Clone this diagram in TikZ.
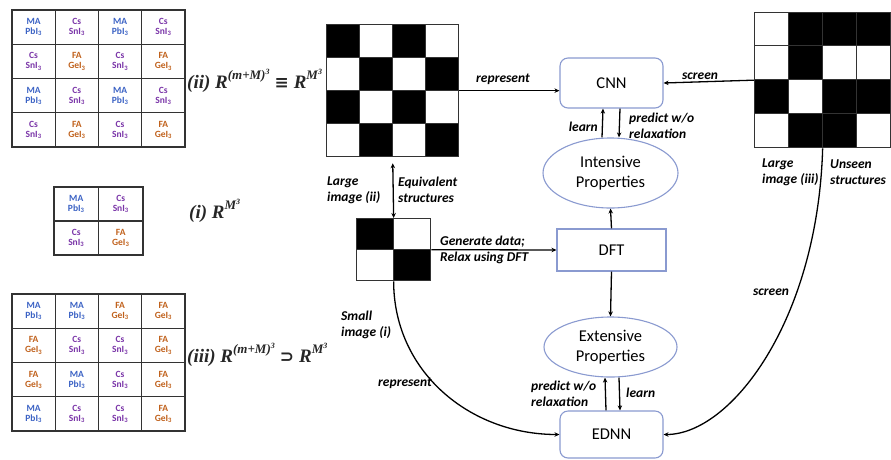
\documentclass[tikz,border=0pt]{standalone}
\usepackage{fontspec}
\setmainfont{Carlito}
\newfontfamily\fmlf{Liberation Serif}
\newfontfamily\symf{DejaVu Sans}
\usetikzlibrary{arrows.meta,shapes.geometric}
\definecolor{mablue}{HTML}{3B62C4}
\definecolor{cspurple}{HTML}{7A35A8}
\definecolor{faorange}{HTML}{C0611C}
\definecolor{boxblue}{HTML}{8A9AD0}
\definecolor{gridgray}{HTML}{333333}
\newcommand\txtM{MA\\PbI\textsubscript{3}}
\newcommand\txtC{Cs\\SnI\textsubscript{3}}
\newcommand\txtF{FA\\GeI\textsubscript{3}}
\newcommand\Rsup[1]{\raisebox{0.45em}{\fontsize{13}{13}\selectfont #1}}
\newcommand\thr{\raisebox{0.4em}{\fontsize{8}{8}\selectfont 3}}
\newcommand\opsym[1]{\hspace{5pt}{\symf\bfseries\fontsize{17}{17}\selectfont #1}\hspace{5pt}}
\newcommand\fmlii{(ii) R\Rsup{(m+M)\thr}\opsym{≡}R\Rsup{M\thr}}
\newcommand\fmli{(i) R\Rsup{M\thr}}
\newcommand\fmliii{(iii) R\Rsup{(m+M)\thr}\opsym{⊃}R\Rsup{M\thr}}
\begin{document}
\begin{tikzpicture}[x=1pt,y=-1pt,
  cell/.style={draw=gridgray, line width=1.3pt, minimum width=43.25pt, minimum height=34.25pt, inner sep=0pt, align=center, font=\fontsize{9.5}{10}\selectfont\bfseries},
  cM/.style={text=mablue}, cC/.style={text=cspurple}, cF/.style={text=faorange},
  chk/.style={draw=gridgray, line width=1pt, inner sep=0pt},
  chkB/.style={fill=black}, chkW/.style={fill=white},
  frame/.style={draw=gridgray, line width=1.3pt, inner sep=0pt, anchor=north west},
  blk/.style={draw=boxblue, line width=1.1pt, fill=white, font=\fontsize{16.5}{20}\selectfont, align=center, inner sep=0pt},
  ell/.style={ellipse, draw=boxblue, line width=1.1pt, fill=white, font=\fontsize{16.5}{20}\selectfont, align=center, inner sep=0pt},
  arr/.style={-{Stealth[length=5pt,width=4.5pt]}, line width=1.3pt},
  lbl/.style={font=\fontsize{13.5}{16}\selectfont\bfseries\itshape, inner sep=0pt, align=left},
  fml/.style={font=\fontsize{19}{21}\selectfont\fmlf\bfseries\itshape, inner sep=0pt, anchor=base west, text=black!85}]
\useasboundingbox (0,0) rectangle (891,459);
% top-left grid (ii)
\foreach \row [count=\rr from 0] in {{M,C,M,C},{C,F,C,F},{M,C,M,C},{C,F,C,F}}{
  \foreach \tt [count=\cc from 0] in \row {
    \node[cell, c\tt] (gA-\rr-\cc) at ({12+43.25*(\cc+0.5)},{10+34.25*(\rr+0.5)}) {\csname txt\tt\endcsname};
  }
}
% middle grid (i)
\foreach \row [count=\rr from 0] in {{M,C},{C,F}}{
  \foreach \tt [count=\cc from 0] in \row {
    \node[cell, c\tt, minimum width=44.5pt, minimum height=34pt] (gB-\rr-\cc) at ({54+44.5*(\cc+0.5)},{187+34*(\rr+0.5)}) {\csname txt\tt\endcsname};
  }
}
% bottom grid (iii)
\foreach \row [count=\rr from 0] in {{M,M,F,F},{F,C,C,F},{F,M,C,F},{M,C,C,F}}{
  \foreach \tt [count=\cc from 0] in \row {
    \node[cell, c\tt] (gC-\rr-\cc) at ({12+43.25*(\cc+0.5)},{294+34.25*(\rr+0.5)}) {\csname txt\tt\endcsname};
  }
}
% formulas
\node[fml] (fii) at (187,88) {\fmlii};
\node[fml] (fi) at (189,218) {\fmli};
\node[fml] (fiii) at (187,362) {\fmliii};
% large checkerboard (ii)
\foreach \row [count=\rr from 0] in {{B,W,B,W},{W,B,W,B},{B,W,B,W},{W,B,W,B}}{
  \foreach \tt [count=\cc from 0] in \row {
    \node[chk, chk\tt, minimum width=33pt, minimum height=33pt] (kA-\rr-\cc) at ({326+33*(\cc+0.5)},{24+33*(\rr+0.5)}) {};
  }
}
\node[frame, minimum width=132pt, minimum height=132pt] (chkA) at (326,24) {};
% small checkerboard (i)
\foreach \row [count=\rr from 0] in {{B,W},{W,B}}{
  \foreach \tt [count=\cc from 0] in \row {
    \node[chk, chk\tt, minimum width=37pt, minimum height=31pt] (kS-\rr-\cc) at ({356+37*(\cc+0.5)},{218+31*(\rr+0.5)}) {};
  }
}
\node[frame, minimum width=74pt, minimum height=62pt] (chkS) at (356,218) {};
% right checkerboard (iii)
\foreach \row [count=\rr from 0] in {{W,B,B,B},{W,B,W,W},{B,W,B,B},{W,B,B,W}}{
  \foreach \tt [count=\cc from 0] in \row {
    \node[chk, chk\tt, minimum width=34pt, minimum height=33.75pt] (kR-\rr-\cc) at ({754+34*(\cc+0.5)},{12+33.75*(\rr+0.5)}) {};
  }
}
\node[frame, minimum width=136pt, minimum height=135pt] (gridR) at (754,12) {};
% blocks
\node[blk, rounded corners=8pt, minimum width=103pt, minimum height=50pt] (cnn) at (611.5,83) {CNN};
\node[ell, minimum width=135pt, minimum height=70pt] (intE) at (610.5,173) {Intensive\\Properties};
\node[blk, minimum width=109pt, minimum height=42pt] (dft) at (611.5,250) {DFT};
\node[ell, minimum width=133pt, minimum height=60pt] (extE) at (610.5,347) {Extensive\\Properties};
\node[blk, rounded corners=8pt, minimum width=103pt, minimum height=47pt] (ednn) at (611.5,434.5) {EDNN};
% connectors
\draw[arr] (chkA.east) -- (chkA.east -| cnn.west);
\draw[arr] (gridR.west) -- (cnn.east);
\draw[arr] (chkS.east) -- (dft.west);
\draw[{Stealth[length=5pt,width=4.5pt]}-{Stealth[length=5pt,width=4.5pt]}, line width=1.3pt, shorten <=6pt] (chkA.south) -- (chkS.north);
\draw[arr] ([xshift=-8.5pt]intE.north) -- ([xshift=-8.5pt]cnn.south);
\draw[arr] ([xshift=8.5pt]cnn.south) -- ([xshift=8.5pt]intE.north);
\draw[arr] (dft.north) -- (intE.south);
\draw[arr] (dft.south) -- (extE.north);
\draw[arr] ([xshift=-5.5pt]ednn.north) -- ([xshift=-5.5pt]extE.south);
\draw[arr] ([xshift=8.5pt]extE.south) -- ([xshift=8.5pt]ednn.north);
\draw[arr] (chkS.south) .. controls +(0,90) and +(-90,0) .. (ednn.west);
\draw[arr] (gridR.south) .. controls +(-5,173) and +(67,0) .. (ednn.east);
% labels
\node[lbl] (lRepA) at (503,79) {represent};
\node[lbl, anchor=west] (lLargeA) at (327,190) {Large\\image (ii)};
\node[lbl, anchor=west] (lEquiv) at (398,190) {Equivalent\\structures};
\node[lbl, anchor=west] (lGen) at (440,250) {Generate data;\\Relax using DFT};
\node[lbl, anchor=west] (lSmall) at (341,325) {Small\\image (i)};
\node[lbl] (lRepB) at (405,383) {represent};
\node[lbl, anchor=east] (lLearnA) at (598,127) {learn};
\node[lbl, anchor=west] (lPredA) at (629,126) {predict w/o\\relaxation};
\node[lbl] (lScrA) at (700,76) {screen};
\node[lbl, anchor=west] (lLargeB) at (762,172) {Large\\image (iii)};
\node[lbl, anchor=west] (lUnseen) at (830,172) {Unseen\\structures};
\node[lbl] (lScrB) at (771,292) {screen};
\node[lbl, anchor=west] (lPredB) at (531,394) {predict w/o\\relaxation};
\node[lbl, anchor=west] (lLearnB) at (626,393) {learn};
\end{tikzpicture}
\end{document}
